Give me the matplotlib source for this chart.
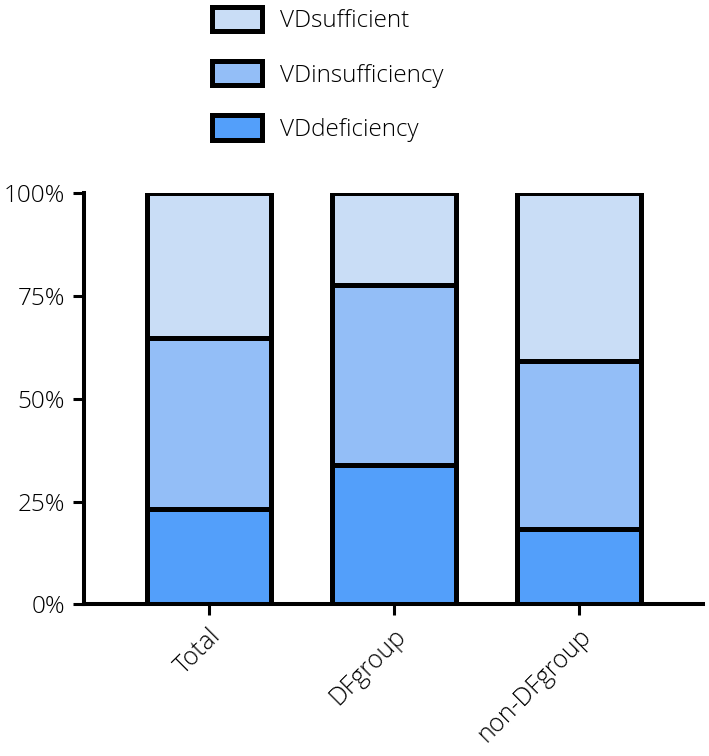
import matplotlib.pyplot as plt
import matplotlib.transforms as mtransforms
import numpy as np

groups = ['Total', 'DFgroup', 'non-DFgroup']
deficiency = [23.1, 33.8, 18.2]
insufficiency = [41.8, 43.8, 41.1]
sufficient = [35.1, 22.4, 40.7]

series_names = ['VDdeficiency', 'VDinsufficiency', 'VDsufficient']
series_colors = ['#539ffa', '#93bef7', '#c9ddf6']

plt.rcParams['font.family'] = ['Open Sans', 'DejaVu Sans']
plt.rcParams['font.weight'] = 'light'

fig = plt.figure(figsize=(7.09, 7.56), dpi=100)
ax = fig.add_axes([0.119, 0.2007, 0.8725, 0.5436])

x = np.arange(len(groups))
bottom = np.zeros(len(groups))
handles = []
for vals, name, col in zip([deficiency, insufficiency, sufficient], series_names, series_colors):
    b = ax.bar(x, vals, width=0.67, bottom=bottom, color=col, edgecolor='black',
               linewidth=3.6, label=name, zorder=2)
    handles.append(b)
    bottom = bottom + np.array(vals)

ax.set_xlim(-0.672, 2.672)
ax.set_ylim(0, 100)
ax.set_yticks([0, 25, 50, 75, 100])
ax.set_yticklabels(['0%', '25%', '50%', '75%', '100%'])
ax.set_xticks(x)
ax.set_xticklabels(groups, rotation=45, ha='right', rotation_mode='anchor', fontsize=18)

# push the rotated labels down a bit, as in the original
shift = mtransforms.ScaledTranslation(-4 / 72, -11 / 72, fig.dpi_scale_trans)
for lab in ax.get_xticklabels():
    lab.set_transform(lab.get_transform() + shift)

for s in ['top', 'right']:
    ax.spines[s].set_visible(False)
for s in ['left', 'bottom']:
    ax.spines[s].set_linewidth(2.9)
ax.tick_params(axis='both', width=2.2, length=8, color='black', pad=6)
ax.tick_params(axis='y', labelsize=17.5)

fig.legend(handles[::-1], series_names[::-1], loc='upper left',
           bbox_to_anchor=(0.2986, 1 - 7 / 756), frameon=False, fontsize=17.5,
           handlelength=2.05, handleheight=1.15, handletextpad=0.75,
           labelspacing=1.15, borderpad=0, borderaxespad=0)

fig.savefig('out.png', dpi=100)
